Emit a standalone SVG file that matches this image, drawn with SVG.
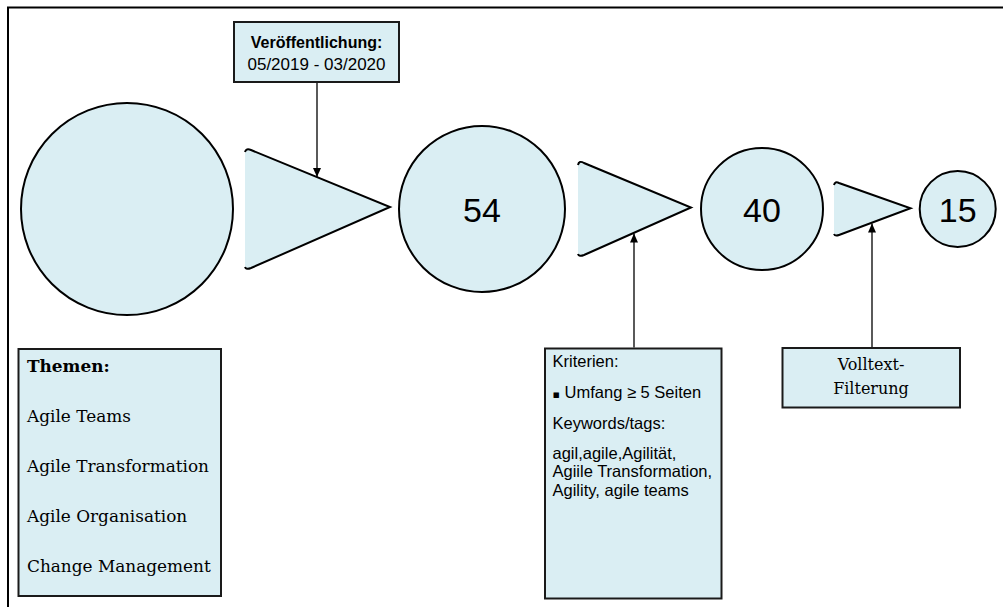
<svg xmlns="http://www.w3.org/2000/svg" width="1003" height="607" viewBox="0 0 1003 607">
<style>
.shape{fill:#DAEEF3;stroke:#000;stroke-width:2}
.tri{fill:#DAEEF3;stroke:none}
.triedge{fill:none;stroke:#000;stroke-width:2;stroke-linejoin:miter}
.box{fill:#DAEEF3;stroke:#1a1a1a;stroke-width:2}
.num{font-family:"Liberation Sans",Arial,sans-serif;font-size:34px;fill:#000;text-anchor:middle}
.sans{font-family:"Liberation Sans",Arial,sans-serif;fill:#000}
.serif{font-family:"DejaVu Serif",serif;fill:#000}
.conn{stroke:#000;stroke-width:1.3;fill:none;marker-end:url(#arr)}
</style>
<defs>
<marker id="arr" markerWidth="10" markerHeight="10" refX="9" refY="5" orient="auto" markerUnits="userSpaceOnUse">
<path d="M0,1 L9,5 L0,9 Z" fill="#000"/>
</marker>
</defs>
<rect width="1003" height="607" fill="#fff"/>
<g id="frame">
<path d="M8,607 L8,7.5 L1003,7.5" fill="none" stroke="#000" stroke-width="2"/>
</g>
<g id="circle-start"><circle class="shape" cx="127" cy="209" r="106"/></g>
<g id="filter-1">
<path class="tri" d="M245,154 Q245,148 251,150 L390,207 L251,268 Q245,271 245,265 Z"/>
<path class="triedge" d="M245,152 Q246,148 251,150 L390,207 L251,268 Q246,270 245,267"/>
</g>
<g id="circle-54"><circle class="shape" cx="482" cy="209" r="83"/><text class="num" x="482" y="221.5">54</text></g>
<g id="filter-2">
<path class="tri" d="M578,166 Q578,160 584,163 L691,207.5 L584,255 Q578,258 578,252 Z"/>
<path class="triedge" d="M578,165 Q579,160 584,163 L691,207.5 L584,255 Q579,257 578,254"/>
</g>
<g id="circle-40"><circle class="shape" cx="762" cy="209" r="61"/><text class="num" x="762" y="221.5">40</text></g>
<g id="filter-3">
<path class="tri" d="M834,186 Q834,181 839,183 L910.5,208.3 L839,235 Q834,237 834,232 Z"/>
<path class="triedge" d="M834,185 Q835,181 839,183 L910.5,208.3 L839,235 Q835,236.5 834,234"/>
</g>
<g id="circle-15"><circle class="shape" cx="957.7" cy="209" r="38"/><text class="num" x="957.7" y="221.5">15</text></g>
<g id="box-veroeffentlichung">
<rect class="box" x="234" y="22" width="165" height="60"/>
<text class="sans" x="316.5" y="47.5" font-size="16" font-weight="bold" text-anchor="middle">Veröffentlichung:</text>
<text class="sans" x="316.5" y="70" font-size="17" text-anchor="middle">05/2019 - 03/2020</text>
</g>
<g id="box-themen">
<rect class="box" x="18.5" y="349" width="202.5" height="247"/>
<text class="serif" x="27" y="372" font-size="16.9" font-weight="bold">Themen:</text>
<text class="serif" x="27" y="422" font-size="16.9">Agile Teams</text>
<text class="serif" x="27" y="472" font-size="16.9">Agile Transformation</text>
<text class="serif" x="27" y="522" font-size="16.9">Agile Organisation</text>
<text class="serif" x="27" y="572" font-size="16.9">Change Management</text>
</g>
<g id="box-kriterien">
<rect class="box" x="545" y="348.5" width="176.5" height="250"/>
<g class="sans" font-size="16.5">
<text x="552.5" y="367">Kriterien:</text>
<text x="552.5" y="398"><tspan font-family="DejaVu Sans" font-size="11">▪</tspan> Umfang ≥ 5 Seiten</text>
<text x="552.5" y="428.5">Keywords/tags:</text>
<text x="552.5" y="458.5">agil,agile,Agilität,</text>
<text x="552.5" y="477">Agiile Transformation,</text>
<text x="552.5" y="495.5">Agility, agile teams</text>
</g>
</g>
<g id="box-volltext">
<rect class="box" x="782.5" y="348" width="177.5" height="59.5"/>
<text class="serif" x="871" y="369.5" font-size="16" text-anchor="middle">Volltext-</text>
<text class="serif" x="871" y="394" font-size="16" text-anchor="middle">Filterung</text>
</g>
<g id="connectors">
<line class="conn" x1="317" y1="83" x2="317" y2="177"/>
<line class="conn" x1="634" y1="347.5" x2="634" y2="233.5"/>
<line class="conn" x1="872" y1="347" x2="872" y2="223.5"/>
</g>
</svg>
